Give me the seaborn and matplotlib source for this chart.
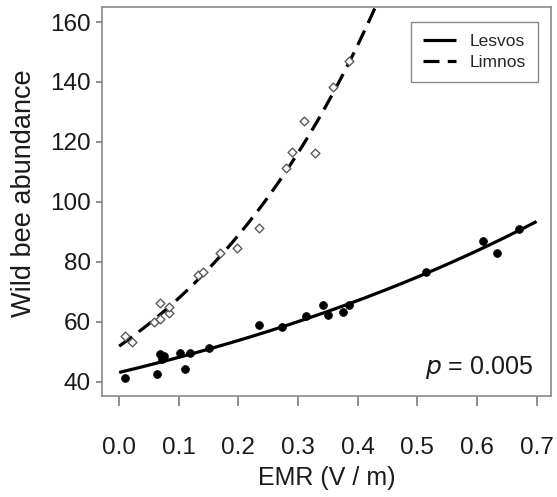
import numpy as np
import pandas as pd
import matplotlib
matplotlib.use("Agg")
import matplotlib.pyplot as plt
import seaborn as sns

# Site measurements: electromagnetic radiation vs. wild bee counts
lesvos_emr = [0.010, 0.063, 0.068, 0.075, 0.072, 0.102, 0.110, 0.118, 0.150,
              0.235, 0.273, 0.313, 0.342, 0.350, 0.376, 0.386, 0.515, 0.611,
              0.634, 0.670]
lesvos_bees = [41.4, 42.6, 49.3, 48.8, 47.5, 49.8, 44.3, 49.8, 51.2,
               59.0, 58.2, 62.0, 65.7, 62.3, 63.4, 65.7, 76.8, 87.0,
               82.9, 90.9]

limnos_emr = [0.010, 0.021, 0.059, 0.068, 0.069, 0.083, 0.084, 0.133, 0.140,
              0.169, 0.197, 0.234, 0.279, 0.290, 0.310, 0.328, 0.358, 0.386]
limnos_bees = [55.3, 53.4, 60.1, 60.9, 66.4, 62.9, 65.1, 75.7, 76.8,
               83.1, 84.6, 91.4, 111.2, 116.8, 127.1, 116.4, 138.2, 147.0]

islands = ["Lesvos", "Limnos"]
x_ticks = [0.0, 0.1, 0.2, 0.3, 0.4, 0.5, 0.6, 0.7]
y_ticks = [40, 60, 80, 100, 120, 140, 160]
p_value = "0.005"


def poisson_fit(x, y, iters=50):
    """Log-link Poisson regression fitted by iteratively reweighted least squares."""
    x = np.asarray(x, float)
    y = np.asarray(y, float)
    X = np.column_stack([np.ones_like(x), x])
    beta = np.array([np.log(y.mean()), 0.0])
    for _ in range(iters):
        mu = np.exp(X @ beta)
        z = X @ beta + (y - mu) / mu
        W = mu
        beta = np.linalg.solve(X.T @ (W[:, None] * X), X.T @ (W * z))
    return beta


sns.set_style("white")
plt.rcParams["font.family"] = ["Liberation Sans", "DejaVu Sans"]

fig = plt.figure(figsize=(5.57, 4.97), dpi=100)
ax = fig.add_axes([0.184, 0.2032, 0.805, 0.7833])

points = pd.DataFrame({
    "EMR": lesvos_emr + limnos_emr,
    "Bees": lesvos_bees + limnos_bees,
    "Island": [islands[0]] * len(lesvos_emr) + [islands[1]] * len(limnos_emr),
})

xlim = (-0.028, 0.724)
ylim = (35.3, 165.1)

# Fitted exponential trends for each island
curves = []
for name, xs, ys in [(islands[0], lesvos_emr, lesvos_bees),
                     (islands[1], limnos_emr, limnos_bees)]:
    b0, b1 = poisson_fit(xs, ys)
    grid = np.linspace(0.0, 0.70, 300)
    curves.append(pd.DataFrame({"EMR": grid, "Bees": np.exp(b0 + b1 * grid),
                                "Island": name}))
curves = pd.concat(curves, ignore_index=True)

sns.lineplot(data=curves[curves.Island == islands[0]], x="EMR", y="Bees",
             color="black", lw=2.3, ax=ax, label=islands[0], legend=False)
sns.lineplot(data=curves[curves.Island == islands[1]], x="EMR", y="Bees",
             color="black", lw=2.3, ax=ax, label=islands[1], legend=False)
ax.lines[1].set_dashes((5.0, 2.6))
for ln in ax.lines:
    ln.set_solid_capstyle("butt")
    ln.set_dash_capstyle("butt")

sns.scatterplot(data=points[points.Island == islands[0]], x="EMR", y="Bees",
                marker="o", s=32, color="black", edgecolor="black",
                linewidth=0.5, ax=ax, legend=False, zorder=3)
sns.scatterplot(data=points[points.Island == islands[1]], x="EMR", y="Bees",
                marker="D", s=20, facecolor="white", edgecolor="#5a5a5a",
                linewidth=1.0, ax=ax, legend=False, zorder=3)

ax.set_xlim(*xlim)
ax.set_ylim(*ylim)
ax.set_xticks(x_ticks)
ax.set_xticklabels([f"{t:.1f}" for t in x_ticks])
ax.set_yticks(y_ticks)
ax.set_yticklabels([str(t) for t in y_ticks])

for side in ["left", "right", "top", "bottom"]:
    ax.spines[side].set_visible(True)
    ax.spines[side].set_color("#8a8a8a")
    ax.spines[side].set_linewidth(1.2)

ax.tick_params(axis="x", direction="out", length=7.2, width=1.1,
               color="#707070", labelsize=17.5, pad=22, labelcolor="#1a1a1a",
               bottom=True)
ax.tick_params(axis="y", direction="out", length=4.5, width=1.1,
               color="#707070", labelsize=17.5, pad=4, labelcolor="#1a1a1a",
               left=True)

ax.set_xlabel("EMR (V / m)", fontsize=18, color="#1a1a1a", labelpad=5)
ax.set_ylabel("Wild bee abundance", fontsize=19.5, color="#1a1a1a")
ax.yaxis.set_label_coords(-0.146, 0.52)

leg = ax.legend(handles=ax.lines[:2], labels=islands, loc="upper right",
                bbox_to_anchor=(0.9717, 0.9615), fontsize=12.5, frameon=True,
                fancybox=False, edgecolor="#6a6a6a", handlelength=1.9,
                handletextpad=0.8, borderpad=0.7, labelspacing=0.35,
                borderaxespad=0.0)
leg.get_frame().set_linewidth(1.0)

ax.text(0.96, 0.0745, "$\\it{p}$ = " + p_value, transform=ax.transAxes,
        ha="right", va="center", fontsize=18, color="#1a1a1a")

fig.savefig("out.png", dpi=100, facecolor="white")
